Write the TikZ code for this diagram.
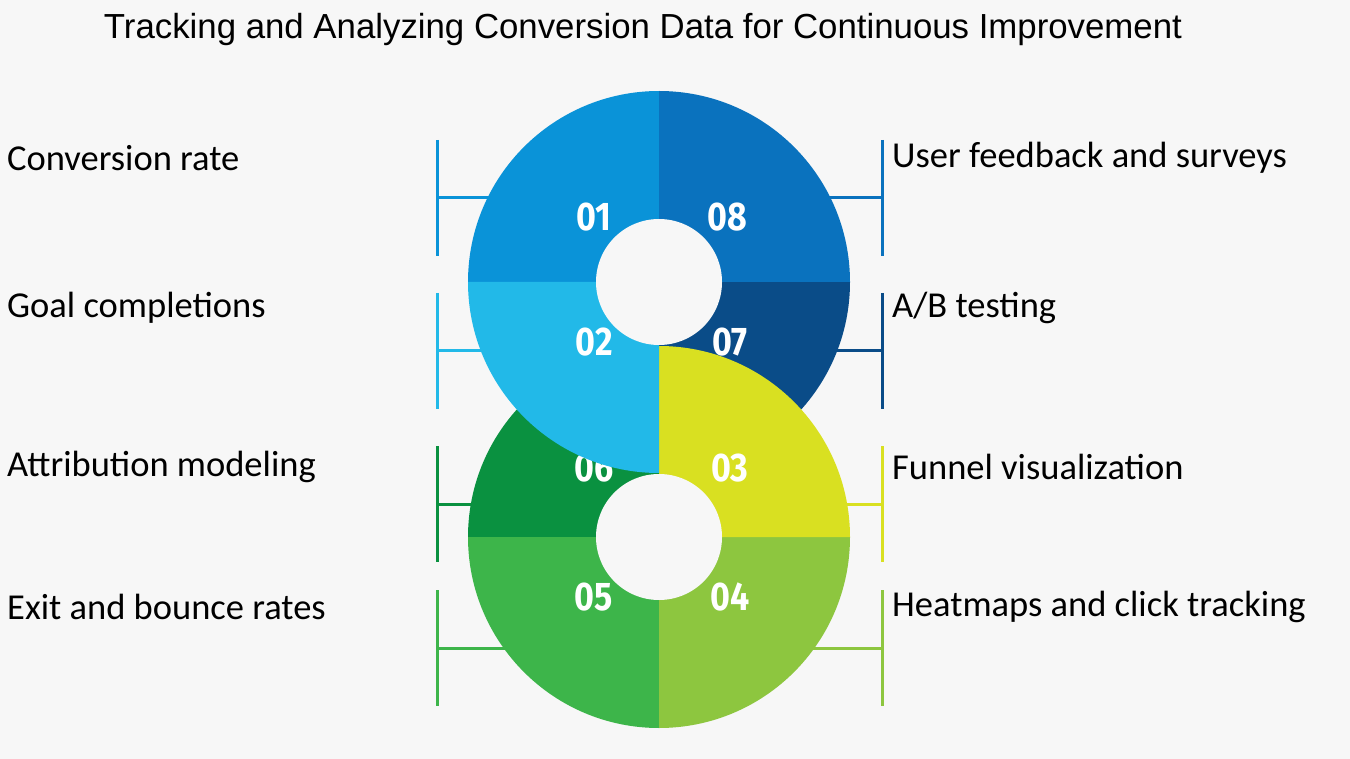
\documentclass[tikz,border=0pt]{standalone}
\usepackage{fontspec}
\setmainfont{Carlito}
\newfontfamily\titlefont{Liberation Sans}
\newfontfamily\numfont{Fira Sans}
\definecolor{bg}{HTML}{F7F7F7}
\definecolor{cA}{HTML}{0A93D8}
\definecolor{cH}{HTML}{0A72BE}
\definecolor{cG}{HTML}{0A4C88}
\definecolor{cB}{HTML}{22B9E8}
\definecolor{cF}{HTML}{0A9140}
\definecolor{cC}{HTML}{D9E021}
\definecolor{cD}{HTML}{8DC63F}
\definecolor{cE}{HTML}{3DB54A}
\begin{document}
\begin{tikzpicture}[x=1pt,y=-1pt,
 lbl/.style={anchor=west,font=\fontsize{36.5}{36.5}\selectfont,text=black,inner sep=0},
 num/.style={font=\numfont\bfseries\fontsize{40}{40}\selectfont,text=white,xscale=0.85},
 brk/.style={line width=3pt}]
\fill[bg] (0,0) rectangle (1350,759);
\useasboundingbox (0,0) rectangle (1350,759);
\node[font=\titlefont\fontsize{34.8}{34.8}\selectfont,inner sep=0] (title) at (643,30) {Tracking and Analyzing Conversion Data for Continuous Improvement};
% brackets
\foreach \c/\y/\s in {cA/198/l1,cB/351/l2,cF/504/l3,cE/648/l4}{
 \coordinate (\s t) at (437,\y-58); \coordinate (\s b) at (437,\y+58);
 \coordinate (\s m) at (437,\y); \coordinate (\s e) at (540,\y);
 \draw[brk,\c] (\s t) -- (\s b); \draw[brk,\c] (\s m) -- (\s e);}
\foreach \c/\y/\s in {cH/198/r1,cG/351/r2,cC/504/r3,cD/648/r4}{
 \coordinate (\s t) at (882,\y-58); \coordinate (\s b) at (882,\y+58);
 \coordinate (\s m) at (882,\y); \coordinate (\s e) at (780,\y);
 \draw[brk,\c] (\s t) -- (\s b); \draw[brk,\c] (\s m) -- (\s e);}
\coordinate (T) at (659,282);
\coordinate (B) at (659,537);
% top circle (except 02)
\fill[cG] (T) -- ++(0:191) arc[start angle=0,end angle=90,radius=191] -- cycle;
\fill[cA] (T) -- ++(180:191) arc[start angle=180,end angle=270,radius=191] -- cycle;
\fill[cH] (T) -- ++(270:191) arc[start angle=270,end angle=360,radius=191] -- cycle;
\node[num] (n01) at (594,217) {01};
\node[num] (n08) at (727,217) {08};
\node[num] (n07) at (730,342) {07};
% bottom circle
\fill[cF] (B) -- ++(180:191) arc[start angle=180,end angle=270,radius=191] -- cycle;
\fill[cE] (B) -- ++(90:191) arc[start angle=90,end angle=180,radius=191] -- cycle;
\fill[cD] (B) -- ++(0:191) arc[start angle=0,end angle=90,radius=191] -- cycle;
\fill[cC] (B) -- ++(270:191) arc[start angle=270,end angle=360,radius=191] -- cycle;
\node[num] (n06) at (594,468) {06};
\node[num] (n05) at (594,597) {05};
\node[num] (n04) at (730,597) {04};
\node[num] (n03) at (730,468) {03};
% 02 on top
\fill[cB] (T) -- ++(90:191) arc[start angle=90,end angle=180,radius=191] -- cycle;
\node[num] (n02) at (594,342) {02};
% holes
\fill[bg] (T) circle[radius=63];
\fill[bg] (B) circle[radius=63];
% labels
\node[lbl] (a1) at (7,158) {Conversion rate};
\node[lbl] (a2) at (7,308) {Goal completions};
\node[lbl] (a3) at (7,467) {Attribution modeling};
\node[lbl] (a4) at (7,607) {Exit and bounce rates};
\node[lbl] (b1) at (892,158) {User feedback and surveys};
\node[lbl] (b2) at (892,308) {A/B testing};
\node[lbl] (b3) at (892,467) {Funnel visualization};
\node[lbl] (b4) at (892,607) {Heatmaps and click tracking};
\end{tikzpicture}
\end{document}
